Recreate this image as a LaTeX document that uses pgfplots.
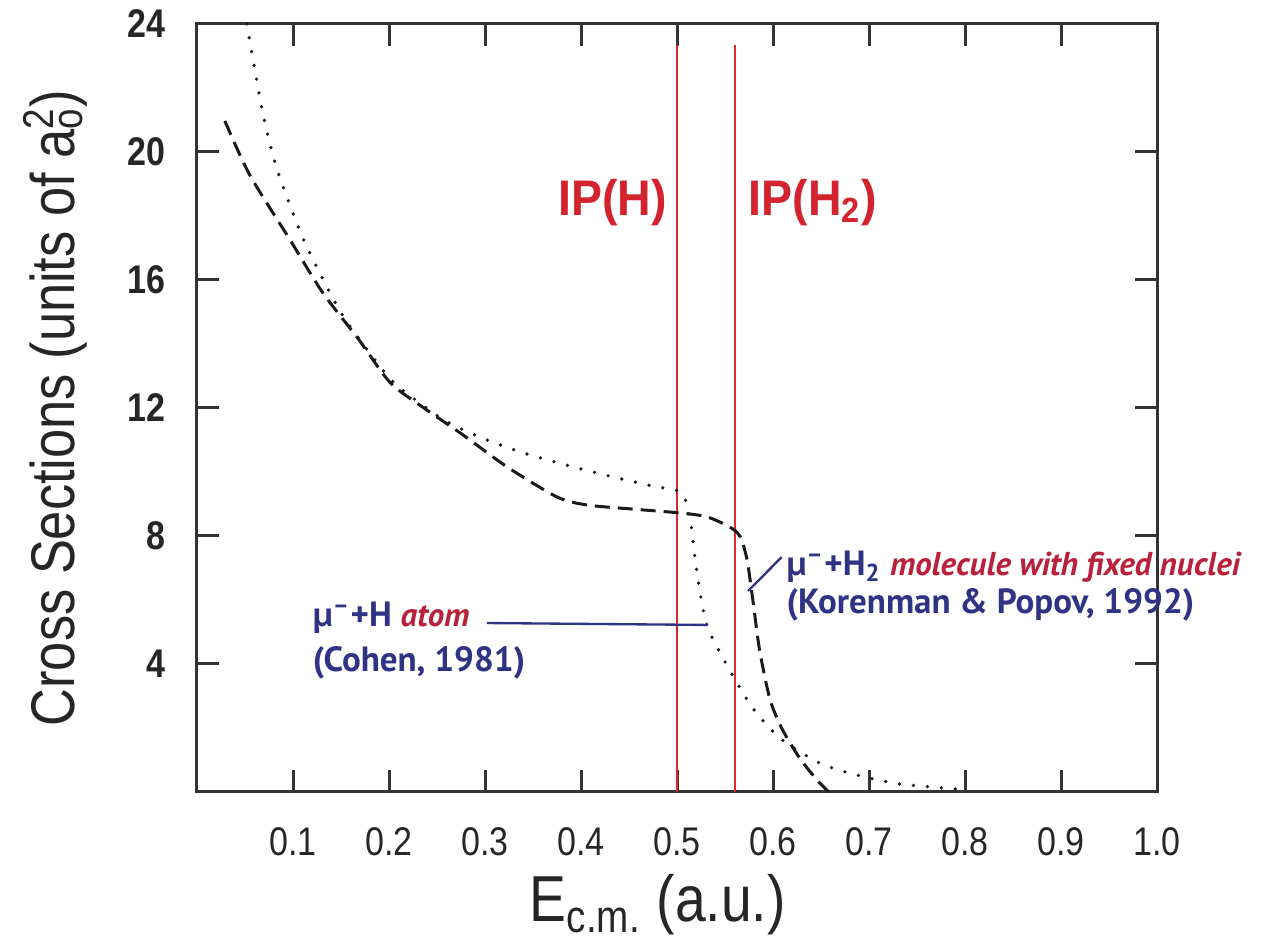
\documentclass[border=0pt]{standalone}
\usepackage{fontspec}
\setmainfont{Liberation Sans}
\newfontfamily\condfont{Liberation Sans}[FakeStretch=0.85]
\newfontfamily\ipfont{Liberation Sans}[FakeStretch=0.93]
\newfontfamily\annfont{PT Sans}
\usepackage{pgfplots}
\pgfplotsset{compat=1.18}
\definecolor{annblue}{HTML}{2E3383}
\definecolor{annred}{HTML}{B9203C}
\definecolor{ipred}{HTML}{D2232F}
\definecolor{vline}{HTML}{E0262E}
\definecolor{axgray}{HTML}{333333}
\definecolor{curve}{HTML}{1A1A1A}

\pgfplotstableread{
x y
0.029 20.97
0.055 19.28
0.097 17.25
0.131 15.6
0.167 14.2
0.201 12.8
0.235 12.03
0.277 11.16
0.323 10.16
0.375 9.22
0.406 8.97
0.454 8.84
0.503 8.72
0.531 8.6
0.555 8.28
0.566 7.97
0.573 7.25
0.579 6.0
0.586 4.44
0.597 2.88
0.610 1.94
0.628 1.05
0.646 0.37
0.658 0.0
}\molecule

\pgfplotstableread{
x y
0.052 24.0
0.068 21.3
0.083 19.5
0.109 17.4
0.135 15.8
0.156 14.7
0.200 12.95
0.230 12.2
0.261 11.56
0.302 11.0
0.344 10.56
0.388 10.19
0.434 9.84
0.475 9.56
0.500 9.42
0.507 9.25
0.511 8.9
0.515 8.28
0.519 7.25
0.526 5.9
0.533 5.06
0.555 3.8
0.579 2.62
0.607 1.69
0.646 0.94
0.675 0.63
0.704 0.41
0.732 0.25
0.764 0.16
0.795 0.08
}\atom

\newcommand{\annblue}{\annfont\bfseries\fontsize{10.5}{12}\selectfont}
\newcommand{\annit}[1]{\textcolor{annred}{\fontsize{9.9}{11}\selectfont\itshape #1}}

\begin{document}
\begin{tikzpicture}
\begin{axis}[
  scale only axis, width=288pt, height=230.4pt,
  at={(0,0)}, anchor=origin,
  xmin=0, xmax=1, ymin=0, ymax=24,
  clip=false,
  xtick={0.1,0.2,0.3,0.4,0.5,0.6,0.7,0.8,0.9,1.0},
  xticklabels={0.1,0.2,0.3,0.4,0.5,0.6,0.7,0.8,0.9,1.0},
  ytick={4,8,12,16,20,24},
  yticklabels={4,8,12,16,20,24},
  tick align=inside,
  major tick length=6.5pt,
  axis line style={line width=0.9pt, axgray},
  every tick/.style={line width=0.9pt, axgray},
  xticklabel style={font=\condfont\fontsize{12}{14}\selectfont, yshift=-7pt, text=black!85},
  yticklabel style={font=\condfont\bfseries\fontsize{12}{14}\selectfont, xshift=-6pt, text=black!85},
  xlabel={E\textsubscript{c.m.} (a.u.)},
  ylabel={Cross Sections (units of a\rlap{\textsubscript{o}}\textsuperscript{2})},
  xlabel style={font=\condfont\fontsize{19.5}{21}\selectfont, text=black!85, at={(axis description cs:0.48,-0.147)}, anchor=center},
  ylabel style={font=\condfont\fontsize{18.5}{20}\selectfont, text=black!85, at={(axis description cs:-0.148,0.5)}, anchor=center},
]
\addplot[vline, line width=0.6pt] coordinates {(0.5,0) (0.5,23.35)};
\addplot[vline, line width=0.6pt] coordinates {(0.56,0) (0.56,23.35)};

\addplot[curve, line width=0.9pt, dash pattern=on 4.5pt off 2.4pt, smooth, tension=0.45] table[x=x,y=y] {\molecule};
\addplot[curve, line width=1.1pt, line cap=round, dash pattern=on 0pt off 4.2pt, smooth, tension=0.45] table[x=x,y=y] {\atom};

\draw[annblue, line width=0.7pt] (axis cs:0.302,5.28) -- (axis cs:0.532,5.22);
\draw[annblue, line width=0.7pt] (axis cs:0.574,6.28) -- (axis cs:0.609,7.34);

\node[anchor=base west, inner sep=0, annblue, font=\annblue] at (axis cs:0.12,5.16) {µ\textsuperscript{–}+H \annit{atom}};
\node[anchor=base west, inner sep=0, annblue, font=\annblue] at (axis cs:0.12,3.75) {(Cohen, 1981)};
\node[anchor=base west, inner sep=0, annblue, font=\annblue] at (axis cs:0.6135,6.75) {µ\textsuperscript{–}+H\textsubscript{2} \annit{molecule with fixed nuclei}};
\node[anchor=base west, inner sep=0, annblue, font=\annblue] at (axis cs:0.6135,5.59) {(Korenman \& Popov, 1992)};

\node[anchor=base east, inner sep=0, ipred, font=\ipfont\bfseries\fontsize{15}{17}\selectfont] at (axis cs:0.49,18.03) {IP(H)};
\node[anchor=base west, inner sep=0, ipred, font=\ipfont\bfseries\fontsize{15}{17}\selectfont] at (axis cs:0.574,18.03) {IP(H\textsubscript{2})};
\end{axis}
\pgfresetboundingbox
\path[use as bounding box] (-59.1pt,-45.3pt) rectangle (326.4pt,237.6pt);
\end{tikzpicture}
\end{document}
